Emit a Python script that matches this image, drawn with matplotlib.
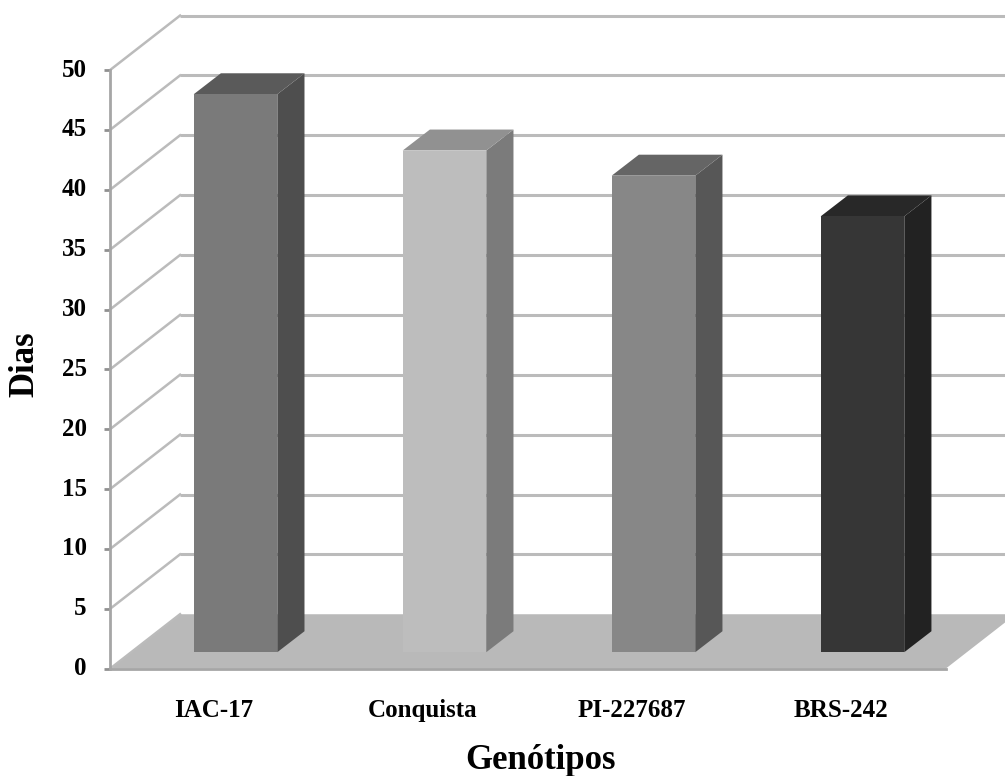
import matplotlib
matplotlib.use("Agg")
import matplotlib.pyplot as plt
from matplotlib.patches import Polygon

genotipos = ["IAC-17", "Conquista", "PI-227687", "BRS-242"]
dias = [46.6, 41.9, 39.8, 36.4]
yticks = [0, 5, 10, 15, 20, 25, 30, 35, 40, 45, 50]

front_colors = ["#7a7a7a", "#bdbdbd", "#878787", "#363636"]
top_colors = ["#5a5a5a", "#919191", "#656565", "#282828"]
side_colors = ["#4e4e4e", "#7b7b7b", "#575757", "#222222"]

GRID = "#bbbbbb"
AXIS = "#a6a6a6"
FLOOR = "#b9b9b9"

# x is in category units, y in days, depth offsets use the same units
X_LEFT = -0.6005
X_RIGHT = 3.398
WALL_DX = 0.335
WALL_DY = 4.55
BAR_W = 0.4
BAR_DY = 1.38
SIDE_DX = 0.13
SIDE_DY = 1.75

plt.rcParams["font.family"] = ["Liberation Serif", "DejaVu Serif"]
plt.rcParams["font.weight"] = "bold"

fig = plt.figure(figsize=(10.05, 7.76), dpi=100)
ax = fig.add_axes([0, 0, 1, 1])
ax.set_xlim(-1.127, 3.682)
ax.set_ylim(-8.96, 55.85)
ax.axis("off")

# floor
ax.add_patch(Polygon([(X_LEFT, 0), (X_RIGHT, 0),
                      (X_RIGHT + WALL_DX, WALL_DY), (X_LEFT + WALL_DX, WALL_DY)],
                     closed=True, fc=FLOOR, ec="none", zorder=1))
ax.plot([X_LEFT, X_RIGHT], [0, 0], color=AXIS, lw=2, zorder=2)

# side wall lines and back wall lines
for t in yticks:
    if t > 0:
        ax.plot([X_LEFT + WALL_DX, 3.682], [t + WALL_DY, t + WALL_DY],
                color=GRID, lw=2.2, zorder=1, solid_capstyle="butt")
    ax.plot([X_LEFT, X_LEFT + WALL_DX], [t, t + WALL_DY],
            color=GRID, lw=1.8, zorder=1)
    ax.plot([X_LEFT - 0.03, X_LEFT], [t, t], color="#909090", lw=2, zorder=2,
            solid_capstyle="butt")
    ax.text(X_LEFT - 0.112, t, str(t), ha="right", va="center", fontsize=18,
            fontweight="bold", color="black")

ax.plot([X_LEFT, X_LEFT], [0, yticks[-1]], color=AXIS, lw=2, zorder=2)

# bars
for i in range(len(genotipos)):
    x0 = i - BAR_W / 2
    x1 = i + BAR_W / 2
    y0 = BAR_DY
    y1 = BAR_DY + dias[i]

    ax.add_patch(Polygon([(x1, y0), (x1 + SIDE_DX, y0 + SIDE_DY),
                          (x1 + SIDE_DX, y1 + SIDE_DY), (x1, y1)],
                         closed=True, fc=side_colors[i], ec="none", zorder=3))
    ax.add_patch(Polygon([(x0, y1), (x1, y1),
                          (x1 + SIDE_DX, y1 + SIDE_DY), (x0 + SIDE_DX, y1 + SIDE_DY)],
                         closed=True, fc=top_colors[i], ec="none", zorder=3))
    ax.add_patch(Polygon([(x0, y0), (x1, y0), (x1, y1), (x0, y1)],
                         closed=True, fc=front_colors[i], ec="none", zorder=4))

    ax.text(i - 0.105, -3.45, genotipos[i], ha="center", va="center", fontsize=18,
            fontweight="bold", color="black")

ax.text(1.46, -7.65, "Genótipos", ha="center", va="center", fontsize=25,
        fontweight="bold", color="black")
ax.text(-1.01, 25.4, "Dias", ha="center", va="center", rotation=90, fontsize=25,
        fontweight="bold", color="black")

fig.savefig("out.png", dpi=100)
